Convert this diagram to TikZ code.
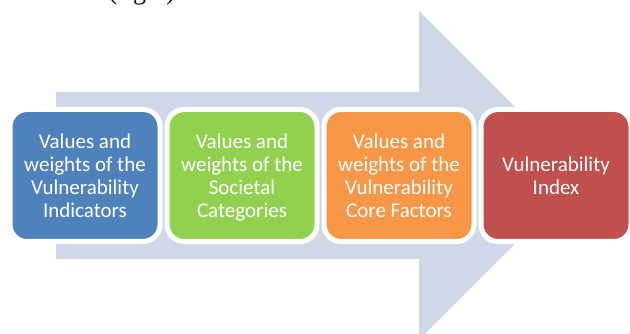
\documentclass[tikz,border=0pt]{standalone}
\usepackage{fontspec}
\setmainfont{Carlito}
\newfontfamily\captionfont{Liberation Serif}
\usetikzlibrary{positioning}

\begin{document}
\begin{tikzpicture}
  [x=1pt,y=1pt,
   % Styles
   block/.style={rounded corners=17pt,draw=white,line width=5pt,
     minimum width=150pt,minimum height=132pt,inner sep=0pt,text depth=0pt,
     text=white,align=center,font=\fontsize{21}{23}\selectfont},
   caption text/.style={anchor=base west,font=\captionfont\fontsize{26}{30}\selectfont}]

  % Colors
  \definecolor{arrowcolor}{HTML}{D0D8E8}
  \definecolor{indicatorcolor}{HTML}{4F81BD}
  \definecolor{categorycolor}{HTML}{92D050}
  \definecolor{factorcolor}{HTML}{F79646}
  \definecolor{indexcolor}{HTML}{C0504D}

  \useasboundingbox (0,0) rectangle (630,334);
  \clip (0,0) rectangle (630,334);

  % The graphic
  \node[caption text] (caption) at (105,334) {(right)};

  \fill[arrowcolor] (56,242) -- (419,242) -- (419,323) -- (583.5,158.5)
    -- (419,-6) -- (419,75) -- (56,75) -- cycle;

  \node[block,fill=indicatorcolor] (indicators) at (85,158.5)
    {Values and\\weights of the\\Vulnerability\\Indicators};
  \node[block,fill=categorycolor,right=2pt of indicators] (categories)
    {Values and\\weights of the\\Societal\\Categories};
  \node[block,fill=factorcolor,right=2pt of categories] (factors)
    {Values and\\weights of the\\Vulnerability\\Core Factors};
  \node[block,fill=indexcolor,right=2pt of factors] (index)
    {Vulnerability\\Index};
\end{tikzpicture}
\end{document}
